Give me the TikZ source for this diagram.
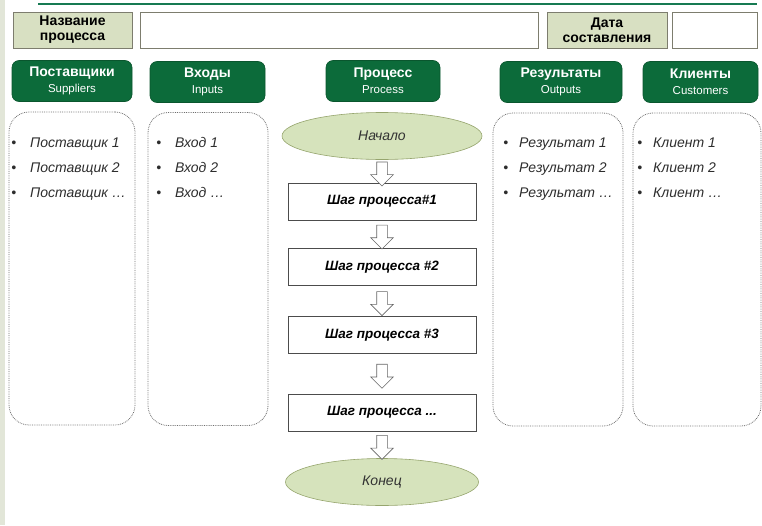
\documentclass[tikz,border=0pt]{standalone}
\usepackage{fontspec}
\setmainfont{Liberation Sans}
\usepackage{tikz}
\usetikzlibrary{shapes.geometric,shapes.arrows}
\usetikzlibrary{positioning}

\definecolor{hdrgreen}{RGB}{12,107,58}
\definecolor{linegreen}{RGB}{22,122,82}
\definecolor{paleolive}{RGB}{216,224,194}
\definecolor{ovalfill}{RGB}{214,227,188}
\definecolor{ovalline}{RGB}{150,165,110}
\definecolor{boxline}{RGB}{125,125,110}
\definecolor{dotline}{RGB}{110,110,110}
\definecolor{listtext}{RGB}{45,45,45}
\definecolor{sidebar}{RGB}{226,230,216}

\newcommand{\itemrows}[4]{\begin{tabular}[t]{@{}l@{\hspace{#1}}l@{}}
 \textbullet & #2\\ \textbullet & #3\\ \textbullet & #4\end{tabular}}

\begin{document}
\begin{tikzpicture}[x=1pt,y=-1pt,node distance=23pt,semithick]
	\tikzstyle{title}=[draw=boxline, fill=paleolive, minimum height=36pt, align=center, inner sep=1pt, font=\fontsize{14}{15}\selectfont\bfseries]
	\tikzstyle{blank}=[draw=boxline, fill=white, minimum height=36pt]
	\tikzstyle{hdr}=[fill=hdrgreen, draw=hdrgreen!80!black, rounded corners=7pt, text=white, minimum height=41pt, align=center, font=\fontsize{14}{16}\selectfont\bfseries]
	\tikzstyle{listbox}=[draw=dotline, densely dotted, line width=0.8pt, rounded corners=20pt, minimum height=313pt]
	\tikzstyle{items}=[anchor=base west, inner sep=0pt, text=listtext, font=\fontsize{14}{25}\selectfont\itshape]
	\tikzstyle{stepbox}=[draw=black!70, fill=white, minimum width=188pt, minimum height=37pt, font=\fontsize{13.5}{15}\selectfont\bfseries\itshape]
	\tikzstyle{oval}=[ellipse, draw=ovalline, fill=ovalfill, minimum height=47pt, text=black!80, font=\fontsize{14}{16}\selectfont\itshape]
	\tikzstyle{flow}=[single arrow, draw=black!60, fill=white, shape border rotate=270, minimum height=24pt, single arrow head extend=6pt, inner sep=5pt]

	\useasboundingbox (0,0) rectangle (762,525);
	\fill[sidebar] (0,0) rectangle (5,525);
	\draw[linegreen, line width=2.5pt] (38,4) -- (757,4);

	% top row
	\node[title, minimum width=119pt] (name) at (72.5,30) {Название\\процесса};
	\node[blank, minimum width=398pt] (namefield) at (339,30) {};
	\node[title, minimum width=120pt] (date) at (607,30) {Дата\\составления};
	\node[blank, minimum width=85pt] (datefield) at (714.5,30) {};

	% column heads
	\node[hdr, minimum width=120pt] (sup) at (72,81) {Поставщики\\{\fontsize{11.5}{12}\selectfont\mdseries Suppliers}};
	\node[hdr, minimum width=115pt] (inp) at (207.5,82) {Входы\\{\fontsize{11.5}{12}\selectfont\mdseries Inputs}};
	\node[hdr, minimum width=114pt] (proc) at (383,81) {Процесс\\{\fontsize{11.5}{12}\selectfont\mdseries Process}};
	\node[hdr, minimum width=122pt] (out) at (561,82) {Результаты\\{\fontsize{11.5}{12}\selectfont\mdseries Outputs}};
	\node[hdr, minimum width=115pt] (cli) at (700.5,82) {Клиенты\\{\fontsize{11.5}{12}\selectfont\mdseries Customers}};

	% lists
	\node[listbox, minimum width=126pt] (supbox) at (72,268.5) {};
	\node[listbox, minimum width=120pt] (inpbox) at (208,269) {};
	\node[listbox, minimum width=130pt] (outbox) at (558,269.5) {};
	\node[listbox, minimum width=128pt] (clibox) at (697,269.5) {};
	\node[items] (suplist) at (11,147) {\itemrows{14pt}{Поставщик 1}{Поставщик 2}{Поставщик …}};
	\node[items] (inplist) at (156,147) {\itemrows{14pt}{Вход 1}{Вход 2}{Вход …}};
	\node[items] (outlist) at (503,147) {\itemrows{11pt}{Результат 1}{Результат 2}{Результат …}};
	\node[items] (clilist) at (637,147) {\itemrows{11pt}{Клиент 1}{Клиент 2}{Клиент …}};

	% process flow
	\node[oval, minimum width=200pt] (start) at (382,136) {Начало};
	\node[stepbox] (s1) [below=23pt of start] {Шаг процесса\#1};
	\node[stepbox] (s2) [below=28pt of s1] {Шаг процесса \#2};
	\node[stepbox] (s3) [below=30pt of s2] {Шаг процесса \#3};
	\node[stepbox] (s4) [below=40pt of s3] {Шаг процесса ...};
	\node[oval, minimum width=193pt] (end) [below=27pt of s4] {Конец};

	\foreach \a/\b in {start/s1,s1/s2,s2/s3,s3/s4,s4/end}{
		\path (\a) -- node[flow] (arr\a) {} (\b);
		}
\end{tikzpicture}
\end{document}
